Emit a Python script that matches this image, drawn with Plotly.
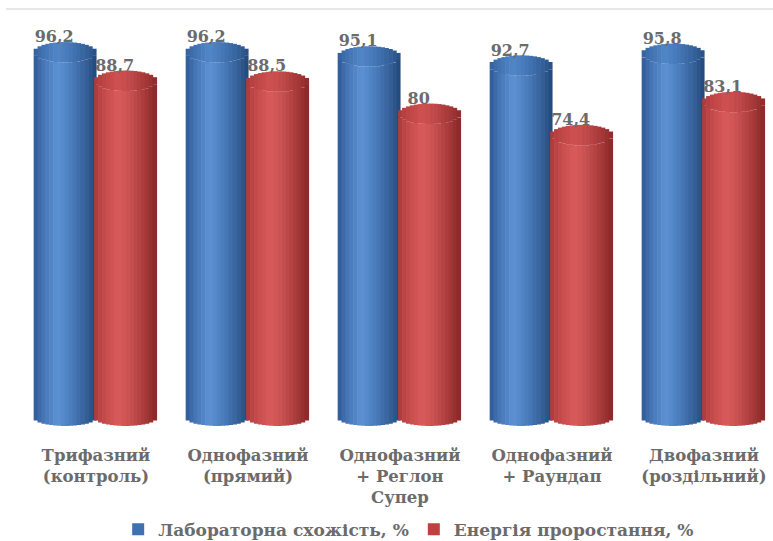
import numpy as np
import plotly.graph_objects as go

categories = ["Трифазний<br>(контроль)", "Однофазний<br>(прямий)",
              "Однофазний<br>+ Реглон<br>Супер", "Однофазний<br>+ Раундап",
              "Двофазний<br>(роздільний)"]
lab_germ = [96.2, 96.2, 95.1, 92.7, 95.8]
germ_energy = [88.7, 88.5, 80.0, 74.4, 83.1]
series_names = ["Лабораторна схожість, %", "Енергія проростання, %"]

x = list(range(len(categories)))
FONT = "DejaVu Serif"
TXT = "#6b6b6b"

def hex2rgb(h):
    h = h.lstrip("#")
    return np.array([int(h[i:i + 2], 16) for i in (0, 2, 4)], float)

def mix(c1, c2, t):
    c = hex2rgb(c1) * (1 - t) + hex2rgb(c2) * t
    return "rgb(%d,%d,%d)" % tuple(np.clip(c, 0, 255).round())

def shade(edge_l, peak, edge_r, u):
    p = -0.25
    if u < p:
        t = (u + 1) / (p + 1)
        return edge_l, peak, t ** 0.7
    t = (u - p) / (1 - p)
    return peak, edge_r, t ** 1.3

styles = [
    dict(left=-0.41, w=0.41, edge_l="#2a5590", peak="#5b90d3", edge_r="#21477b",
         top_l="#2f5d98", top_p="#5085c7", top_r="#264f85", legend="#3f70b0"),
    dict(left=-0.012, w=0.41, edge_l="#aa3636", peak="#d95a5a", edge_r="#882727",
         top_l="#a83737", top_p="#cf5050", top_r="#8e2b2b", legend="#c0403f"),
]

H = 2.7
HB = 2.2
N = 16

fig = go.Figure()
label_traces = []
for vals, st in zip([lab_germ, germ_energy], styles):
    vals = np.array(vals, float)
    step = st["w"] / N
    for k in range(N):
        uc = ((k + 0.5) / N) * 2 - 1
        s = np.sqrt(max(1 - uc ** 2, 0))
        a, b, t = shade(st["edge_l"], st["peak"], st["edge_r"], uc)
        side_col = mix(a, b, t)
        a2, b2, t2 = shade(st["top_l"], st["top_p"], st["top_r"], uc)
        top_col = mix(a2, b2, t2)
        off = st["left"] + k * step
        base_side = -HB * s
        fig.add_trace(go.Bar(
            x=x, y=vals - H * s - base_side, base=[base_side] * len(x),
            offset=off, width=step * 1.15, marker=dict(color=side_col, line=dict(width=0)),
            showlegend=False, hoverinfo="skip"))
        fig.add_trace(go.Bar(
            x=x, y=[2 * H * s] * len(x), base=vals - H * s,
            offset=off, width=step * 1.15, marker=dict(color=top_col, line=dict(width=0)),
            showlegend=False, hoverinfo="skip"))
    label_traces.append(go.Scatter(
        x=[xi + st["left"] + st["w"] / 2 - 0.07 for xi in x], y=vals + 3.7,
        text=["<b>" + ("%.1f" % v).rstrip("0").rstrip(".").replace(".", ",") + "</b>" for v in vals],
        mode="text", textfont=dict(family=FONT, size=16, color=TXT),
        showlegend=False, hoverinfo="skip", cliponaxis=False))

for tr in label_traces:
    fig.add_trace(tr)

for name, st in zip(series_names, styles):
    fig.add_trace(go.Bar(x=[None], y=[None], name="<b>" + name + "</b>",
                         marker=dict(color=st["legend"], line=dict(width=0))))

fig.update_layout(
    width=773, height=541,
    barmode="overlay",
    paper_bgcolor="white", plot_bgcolor="white",
    font=dict(family=FONT),
    margin=dict(l=6, r=0, t=9, b=112, autoexpand=False),
    xaxis=dict(range=[-0.592, 4.454], tickmode="array", tickvals=x,
               ticktext=["<b>" + c + "</b>" for c in categories],
               showgrid=False, zeroline=False, showline=False, ticks="",
               ticklabelstandoff=14,
               tickfont=dict(family=FONT, size=16.5, color=TXT)),
    yaxis=dict(range=[-3, 107.6], visible=False, showgrid=False, zeroline=False),
    showlegend=True,
    legend=dict(orientation="h", x=0.525, xanchor="center", y=-0.24, yanchor="middle",
                bgcolor="rgba(0,0,0,0)",
                font=dict(family=FONT, size=17, color=TXT),
                itemclick=False, traceorder="normal"),
    shapes=[dict(type="line", xref="paper", yref="paper", x0=0, x1=1, y0=1, y1=1,
                 line=dict(color="#e0e0e0", width=1.5))],
)

fig.write_html("out.html")
